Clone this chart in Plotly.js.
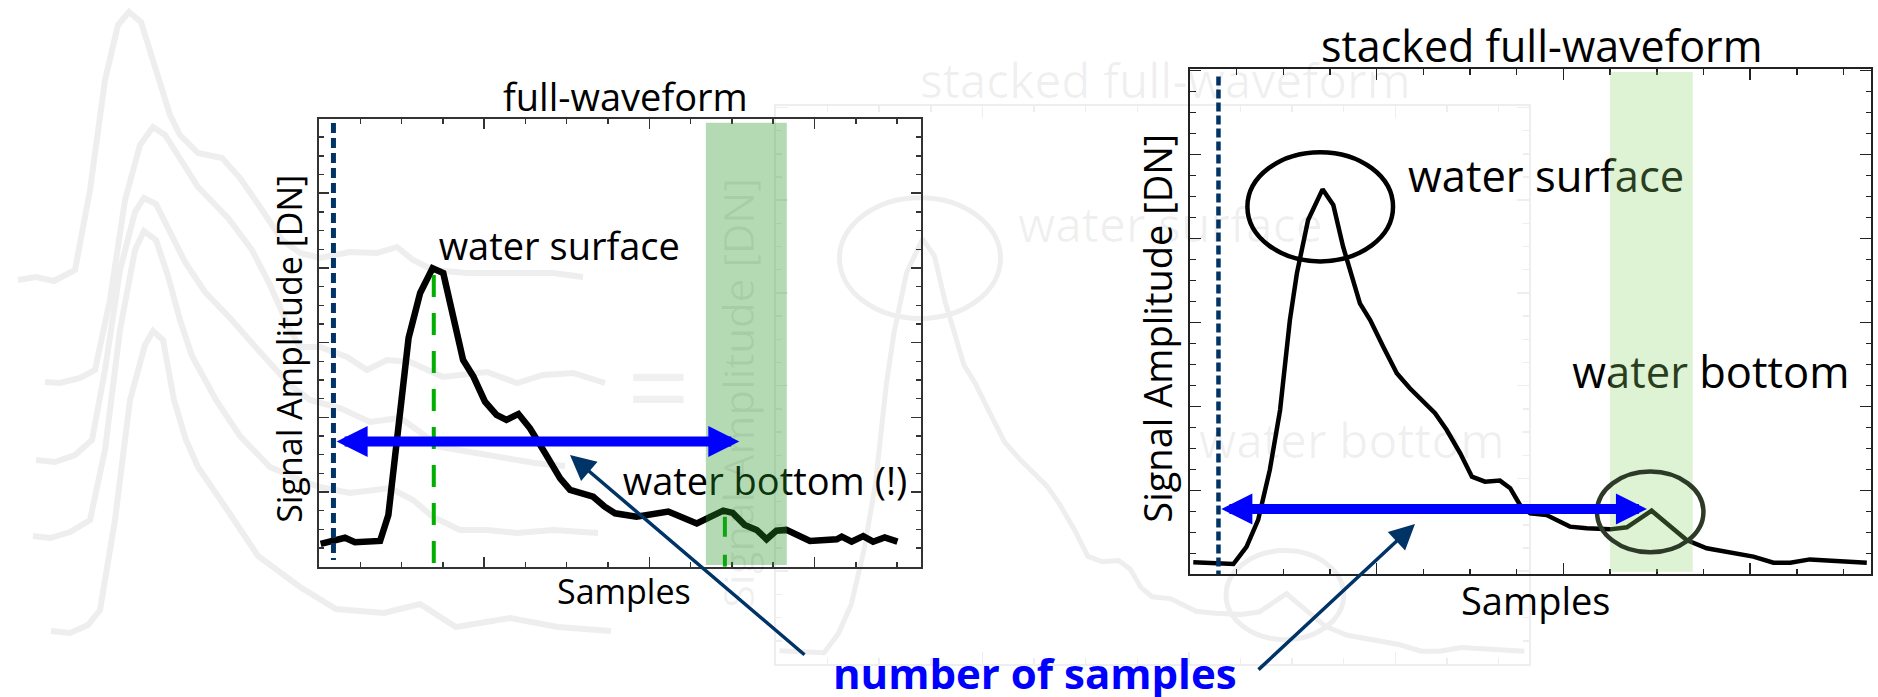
<!DOCTYPE html>
<html><head><meta charset="utf-8">
<script src="https://cdn.plot.ly/plotly-3.0.1.min.js"></script>
<style>html,body{margin:0;padding:0;background:#fff;}#chart{width:1878px;height:697px;}</style>
</head><body><div id="chart"></div>
<script>
// ---------------- DATA ----------------
// single full-waveform (left panel): sample position / signal amplitude (tick units)
const singleSamples = [0.04,0.35,0.63,0.87,1.15,1.48,1.68,1.84,2.17,2.45,2.75,3.01,3.33,3.49,3.74,4.02,4.30,4.54,4.83,5.11,5.48,5.84,6.08,6.40,6.64,6.92,7.17,7.69,8.46,9.15,9.79,10.02,10.31,10.60,10.84,11.08,11.32,11.89,12.54,12.66,12.90,13.18,13.42,13.70,14.01];
const singleAmplitude = [1.22,1.38,1.55,1.31,1.38,1.38,2.77,5.89,12.25,14.66,15.98,15.72,12.85,11.07,10.18,8.84,8.13,7.86,8.18,7.41,6.07,4.73,4.11,3.89,3.75,3.21,2.86,2.68,2.95,2.32,3.00,2.88,2.23,1.97,1.47,1.93,1.97,1.38,1.47,1.61,1.34,1.64,1.34,1.57,1.34];

// stacked full-waveform (right panel)
const stackedSamples = [0.07,0.93,1.21,1.46,1.71,1.93,2.14,2.29,2.53,2.84,3.07,3.28,3.64,3.86,4.14,4.43,4.71,5.00,5.25,5.50,5.79,6.04,6.32,6.64,6.86,7.07,7.29,7.64,7.86,8.14,8.50,9.00,9.36,9.89,10.21,10.64,11.07,11.50,12.07,12.50,12.86,13.28,13.64,14.50];
const stackedAmplitude = [0.57,0.49,1.31,2.59,4.97,7.82,12.11,14.33,16.87,18.33,17.59,15.60,12.90,12.11,10.84,9.57,8.86,8.22,7.67,6.87,5.76,4.65,4.41,4.46,4.10,3.30,2.90,2.82,2.59,2.27,2.19,2.14,2.24,3.03,2.43,1.63,1.24,1.08,0.84,0.55,0.55,0.71,0.65,0.55];

// event markers (sample positions)
const singleNoiseStart = 0.35, singleSurfacePeak = 2.78, singleBottomPeak = 9.83;
const singleSurfaceAmp = 15.62, singleBottomAmp = 2.68;
const singleBottomWindow = [9.37, 11.33];
const stackedNoiseStart = 0.61;
const stackedBottomWindow = [9.00, 10.77];
const stackedSurfaceRing = [1.23, 4.35, 14.9, 20.1];
const stackedBottomRing = [8.72, 11.00, 1.05, 4.89];

// number-of-samples spans
const singleSpan = [0.39, 10.18], singleSpanLevel = 6.70;
const stackedSpan = [0.64, 9.79], stackedSpanLevel = 3.11;

// labels
const titles = ['full-waveform', 'stacked full-waveform'];
const xTitle = 'Samples';
const yTitle = 'Signal Amplitude [DN]';
const surfaceLabel = 'water surface';
const bottomLabelSingle = 'water bottom (!)';
const bottomLabelStacked = 'water bottom';
const spanLabel = 'number of samples';
const singleLabelX = [5.82, 10.80], singleLabelY = [16.94, 4.35];
const stackedLabelX = [7.63, 11.16], stackedLabelY = [18.74, 9.38];

// faded stack of single waveforms in the background (canvas units)
const ghostWave1X = [18,36,54,75,90,105,118,129,141,156,170,180,198,222,240,258,282,300,320,350,377,397,413,433,467,500,533,553,583];
const ghostWave1Y = [280,277,281,270,190,80,25,12,22,70,115,135,153,158,178,204,240,253,258,252,253,247,260,270,273,273,273,273,277];
const ghostWave2X = [45,60,80,95,110,125,140,153,165,175,198,228,252,270,290,300,320,347,367,387,410,443,487,517,543,573,605];
const ghostWave2Y = [382,383,378,370,300,200,145,127,135,150,187,218,250,285,330,347,347,357,370,360,362,377,372,383,375,373,383];
const ghostWave3X = [36,55,75,92,105,120,135,144,156,170,185,205,230,260,290,310,340,370,400,420,440,470,505,535,565];
const ghostWave3Y = [460,462,455,440,370,270,212,198,204,232,262,292,318,352,385,400,408,422,418,432,447,452,458,463,466];
const ghostWave4X = [33,50,70,90,105,120,135,144,156,168,180,192,216,240,270,300,320,350,390,413,433,460,487,517,553,598];
const ghostWave4Y = [536,538,532,520,450,330,250,231,240,276,320,356,400,436,467,480,487,493,488,500,517,530,530,533,530,533];
const ghostWave5X = [51,70,88,100,115,130,145,153,163,174,186,198,228,258,300,336,384,420,456,510,558,611];
const ghostWave5Y = [631,633,625,610,520,400,345,331,340,400,440,467,511,556,587,609,613,604,627,618,627,631];

// ---------------- LAYOUT HELPERS ----------------
const W = 1878, H = 697;
const px = v => v / W;
const py = v => 1 - v / H;
const ghostBox = {l: 776, r: 1529, t: 106, b: 664};
const leftBox = {l: 319, r: 921, t: 119.3, b: 566.7};
const rightBox = {l: 1190, r: 1871, t: 69, b: 574.3};
const ghost = 'rgba(0,0,0,0.06)';
const navy = '#003366';
const FONT = 'Open Sans, DejaVu Sans, sans-serif';

function frameAxis(box, isX, range, color, major, minor, lw) {
  return {
    domain: isX ? [px(box.l), px(box.r)] : [py(box.b), py(box.t)],
    range: range, autorange: false, fixedrange: true,
    showgrid: false, zeroline: false, showticklabels: false,
    showline: true, linecolor: color, linewidth: lw, mirror: 'allticks',
    ticks: 'inside', ticklen: major, tickwidth: 1.5, tickcolor: color,
    tick0: 0, dtick: 4,
    minor: {ticks: 'inside', ticklen: minor, tickwidth: 1.5, tickcolor: color, tick0: 0, dtick: 1, showgrid: false}
  };
}

const traces = [];
[[ghostWave1X, ghostWave1Y],[ghostWave2X, ghostWave2Y],[ghostWave3X, ghostWave3Y],[ghostWave4X, ghostWave4Y],[ghostWave5X, ghostWave5Y]].forEach(g => {
  traces.push({x: g[0], y: g[1], xaxis: 'x', yaxis: 'y', mode: 'lines', line: {color: '#eeeeee', width: 6}, hoverinfo: 'skip'});
});
traces.push({x: stackedSamples, y: stackedAmplitude, xaxis: 'x2', yaxis: 'y2', mode: 'lines', line: {color: '#eeeeee', width: 5}, hoverinfo: 'skip'});
traces.push({x: singleSamples, y: singleAmplitude, xaxis: 'x3', yaxis: 'y3', mode: 'lines', line: {color: '#000', width: 6.5}, hoverinfo: 'skip'});
traces.push({x: singleLabelX, y: singleLabelY, text: [surfaceLabel, bottomLabelSingle], xaxis: 'x3', yaxis: 'y3', mode: 'text', textposition: 'middle center', textfont: {family: FONT, size: 38, color: '#000'}, cliponaxis: false, hoverinfo: 'skip'});
traces.push({x: stackedSamples, y: stackedAmplitude, xaxis: 'x4', yaxis: 'y4', mode: 'lines', line: {color: '#000', width: 4.5}, hoverinfo: 'skip'});
traces.push({x: stackedLabelX, y: stackedLabelY, text: [surfaceLabel, bottomLabelStacked], xaxis: 'x4', yaxis: 'y4', mode: 'text', textposition: 'middle center', textfont: {family: FONT, size: 43.5, color: '#000'}, cliponaxis: false, hoverinfo: 'skip'});

const rangeL = [[0, 14.58], [0, 23.96]];
const rangeR = [[0, 14.59], [0, 24.06]];

const shapes = [
  // ghost rings
  {type: 'circle', xref: 'x2', yref: 'y2', x0: stackedSurfaceRing[0], x1: stackedSurfaceRing[1], y0: stackedSurfaceRing[2], y1: stackedSurfaceRing[3], line: {color: '#eeeeee', width: 5}, layer: 'below'},
  {type: 'circle', xref: 'x2', yref: 'y2', x0: stackedBottomRing[0], x1: stackedBottomRing[1], y0: stackedBottomRing[2], y1: stackedBottomRing[3], line: {color: '#eeeeee', width: 5}, layer: 'below'},
  // left panel markers
  {type: 'line', xref: 'x3', yref: 'y3', x0: singleNoiseStart, x1: singleNoiseStart, y0: 23.76, y1: 0.36, line: {color: navy, width: 5, dash: '10px,5px'}, layer: 'above'},
  {type: 'line', xref: 'x3', yref: 'y3', x0: singleSurfacePeak, x1: singleSurfacePeak, y0: singleSurfaceAmp, y1: 0.1, line: {color: '#00b000', width: 4, dash: '22px,16px'}, layer: 'above'},
  {type: 'line', xref: 'x3', yref: 'y3', x0: singleBottomPeak, x1: singleBottomPeak, y0: singleBottomAmp, y1: 0, line: {color: '#00b000', width: 4, dash: '20px,18px'}, layer: 'above'},
  {type: 'rect', xref: 'x3', yref: 'y3', x0: singleBottomWindow[0], x1: singleBottomWindow[1], y0: 0.09, y1: 23.78, fillcolor: 'rgba(40,150,40,0.35)', line: {width: 0}, layer: 'above'},
  // right panel markers
  {type: 'line', xref: 'x4', yref: 'y4', x0: stackedNoiseStart, x1: stackedNoiseStart, y0: 23.7, y1: 0, line: {color: navy, width: 4.5, dash: '9px,4px'}, layer: 'above'},
  {type: 'rect', xref: 'x4', yref: 'y4', x0: stackedBottomWindow[0], x1: stackedBottomWindow[1], y0: 0.12, y1: 23.92, fillcolor: 'rgba(143,210,108,0.29)', line: {width: 0}, layer: 'above'},
  {type: 'circle', xref: 'x4', yref: 'y4', x0: stackedSurfaceRing[0], x1: stackedSurfaceRing[1], y0: stackedSurfaceRing[2], y1: stackedSurfaceRing[3], line: {color: '#000', width: 4.5}, layer: 'above'},
  {type: 'circle', xref: 'x4', yref: 'y4', x0: stackedBottomRing[0], x1: stackedBottomRing[1], y0: stackedBottomRing[2], y1: stackedBottomRing[3], line: {color: '#2c3a27', width: 4.5}, layer: 'above'}
];

function txt(text, x, y, size, color, extra) {
  return Object.assign({text: text, xref: 'paper', yref: 'paper', x: px(x), y: py(y), xanchor: 'center', yanchor: 'middle', showarrow: false, font: {family: FONT, size: size, color: color}}, extra || {});
}
function span(xr, yr, a, b, level) {
  return {text: '', xref: xr, yref: yr, axref: xr, ayref: yr, x: b, y: level, ax: a, ay: level, showarrow: true,
    arrowside: 'end+start', arrowhead: 2, startarrowhead: 2, arrowsize: 0.62, startarrowsize: 0.62,
    arrowwidth: 10, arrowcolor: '#0000ff', standoff: 0, startstandoff: 0, font: {size: 1}};
}
function pointer(tipX, tipY, tailX, tailY) {
  return {text: '', xref: 'paper', yref: 'paper', x: px(tipX), y: py(tipY), ax: tailX - tipX, ay: tailY - tipY,
    showarrow: true, arrowhead: 2, arrowsize: 1.45, arrowwidth: 3.5, arrowcolor: navy, standoff: 0, font: {size: 1}};
}

const annotations = [
  // faded copy of the stacked panel
  txt(titles[1], 1165, 80, 47.8, ghost),
  txt(surfaceLabel, 1170, 223, 48, ghost),
  txt(bottomLabelStacked, 1352, 440, 48, ghost),
  txt(yTitle, 737, 393, 42, ghost, {textangle: -90}),
  txt('=', 658, 384, 110, ghost),
  // titles
  txt(titles[0], 625, 96, 38, '#000'),
  txt(titles[1], 1541.5, 45.4, 43, '#000'),
  txt(xTitle, 624, 591, 34, '#000'),
  txt(xTitle, 1535, 600, 38, '#000'),
  txt(yTitle, 289, 348.8, 34, '#000', {textangle: -90}),
  txt(yTitle, 1157, 328.7, 38, '#000', {textangle: -90}),
  txt(spanLabel, 1034.5, 672.7, 42, '#0000ff', {font: {family: FONT, size: 42, color: '#0000ff', weight: 700}}),
  span('x3', 'y3', singleSpan[0], singleSpan[1], singleSpanLevel),
  span('x4', 'y4', stackedSpan[0], stackedSpan[1], stackedSpanLevel),
  pointer(570, 455, 806, 656),
  pointer(1415, 524, 1257, 671)
];

const layout = {
  width: W, height: H, margin: {l: 0, r: 0, t: 0, b: 0, pad: 0},
  paper_bgcolor: '#fff', plot_bgcolor: 'rgba(0,0,0,0)', showlegend: false,
  font: {family: FONT, color: '#000'},
  xaxis: {domain: [0, 1], range: [0, W], visible: false, fixedrange: true},
  yaxis: {domain: [0, 1], range: [H, 0], visible: false, fixedrange: true},
  xaxis2: Object.assign(frameAxis(ghostBox, true, rangeR[0], '#eeeeee', 12, 6, 2), {anchor: 'y2'}),
  yaxis2: Object.assign(frameAxis(ghostBox, false, rangeR[1], '#eeeeee', 12, 6, 2), {anchor: 'x2'}),
  xaxis3: Object.assign(frameAxis(leftBox, true, rangeL[0], '#333', 10, 5, 2), {anchor: 'y3'}),
  yaxis3: Object.assign(frameAxis(leftBox, false, rangeL[1], '#333', 10, 5, 2), {anchor: 'x3'}),
  xaxis4: Object.assign(frameAxis(rightBox, true, rangeR[0], '#222', 11, 5.5, 2), {anchor: 'y4'}),
  yaxis4: Object.assign(frameAxis(rightBox, false, rangeR[1], '#222', 11, 5.5, 2), {anchor: 'x4'}),
  shapes: shapes,
  annotations: annotations
};

Plotly.newPlot('chart', traces, layout, {staticPlot: true, displayModeBar: false});
</script>
</body></html>
